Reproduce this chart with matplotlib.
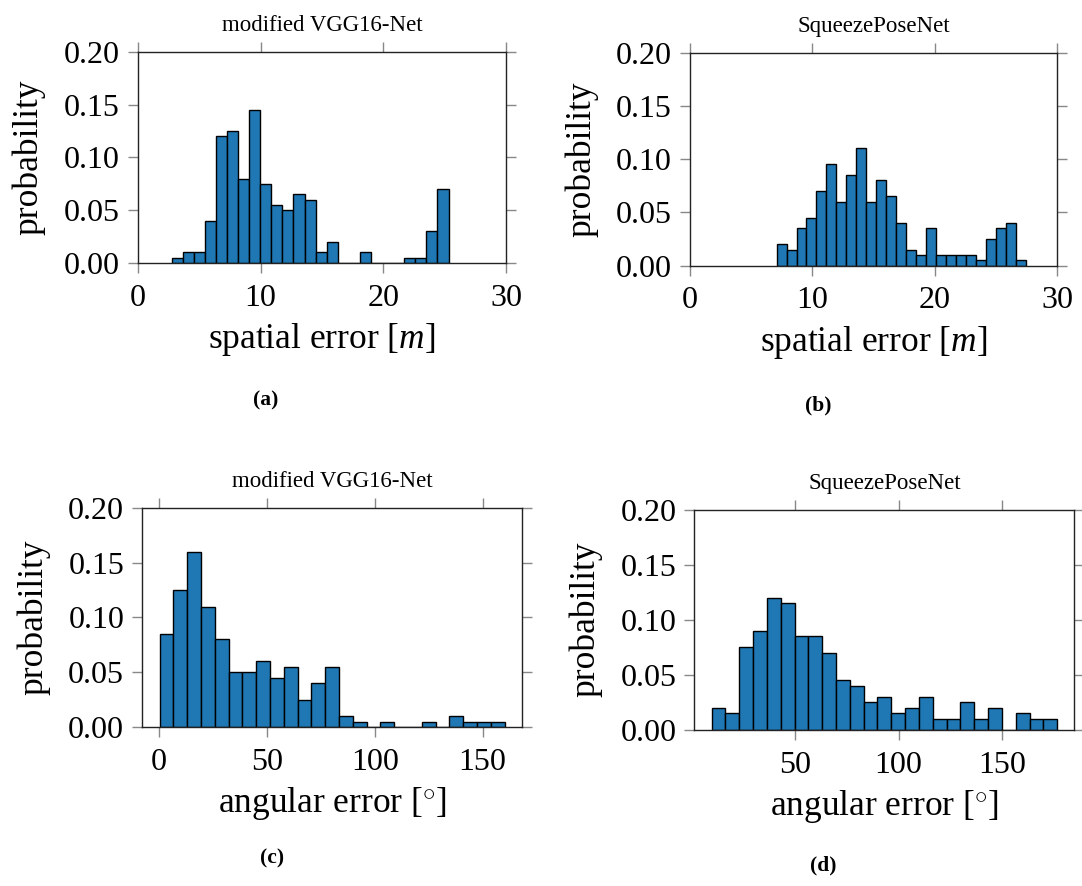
import numpy as np
import matplotlib
matplotlib.use("Agg")
import matplotlib.pyplot as plt

plt.rcParams['font.family'] = ['Liberation Serif', 'DejaVu Serif']
plt.rcParams['mathtext.fontset'] = 'custom'
plt.rcParams['mathtext.rm'] = 'Liberation Serif'
plt.rcParams['mathtext.it'] = 'Liberation Serif:italic'

# (a) spatial error, modified VGG16-Net
spat_vgg_range = (2.74, 25.32)
spat_vgg = [0.005, 0.010, 0.010, 0.040, 0.120, 0.125, 0.080, 0.145, 0.075, 0.055,
            0.050, 0.065, 0.060, 0.010, 0.020, 0.0, 0.0, 0.010, 0.0, 0.0,
            0.0, 0.005, 0.005, 0.030, 0.070]

# (b) spatial error, SqueezePoseNet
spat_sq_range = (7.08, 27.44)
spat_sq = [0.020, 0.015, 0.035, 0.045, 0.070, 0.095, 0.060, 0.085, 0.110, 0.060,
           0.080, 0.065, 0.040, 0.015, 0.010, 0.035, 0.010, 0.010, 0.010, 0.010,
           0.005, 0.025, 0.035, 0.040, 0.005]

# (c) angular error, modified VGG16-Net
ang_vgg_range = (0.3, 160.2)
ang_vgg = [0.085, 0.125, 0.160, 0.110, 0.080, 0.050, 0.050, 0.060, 0.045, 0.055,
           0.025, 0.040, 0.055, 0.010, 0.005, 0.0, 0.005, 0.0, 0.0, 0.005,
           0.0, 0.010, 0.005, 0.005, 0.005]

# (d) angular error, SqueezePoseNet
ang_sq_range = (9.8, 176.5)
ang_sq = [0.020, 0.015, 0.075, 0.090, 0.120, 0.115, 0.085, 0.085, 0.070, 0.045,
          0.040, 0.025, 0.030, 0.015, 0.020, 0.030, 0.010, 0.010, 0.025, 0.010,
          0.020, 0.0, 0.015, 0.010, 0.010]

panels = [
    ("modified VGG16-Net", spat_vgg_range, spat_vgg, r"spatial error [$m$]", "(a)", (0, 30),
     [0.1275, 0.7032, 0.3401, 0.2381], (0.2458, 1 - 400 / 886)),
    ("SqueezePoseNet", spat_sq_range, spat_sq, r"spatial error [$m$]", "(b)", (0, 30),
     [0.6377, 0.7003, 0.3392, 0.2404], (0.7560, 1 - 405 / 886)),
    ("modified VGG16-Net", ang_vgg_range, ang_vgg, r"angular error [$^{\circ}$]", "(c)", None,
     [0.1315, 0.1791, 0.3509, 0.2479], (0.2514, 1 - 858 / 886)),
    ("SqueezePoseNet", ang_sq_range, ang_sq, r"angular error [$^{\circ}$]", "(d)", None,
     [0.6417, 0.1764, 0.3513, 0.2483], (0.7606, 1 - 865 / 886)),
]

fig = plt.figure(figsize=(10.82, 8.86), dpi=100)

for title, rng, heights, xlabel, tag, xlim, pos, tagpos in panels:
    ax = fig.add_axes(pos)
    edges = np.linspace(rng[0], rng[1], len(heights) + 1)
    ax.bar(edges[:-1], heights, width=np.diff(edges), align='edge',
           color='#1f77b4', edgecolor='black', linewidth=1.0)
    if xlim is not None:
        ax.set_xlim(xlim)
        ax.set_xticks([0, 10, 20, 30])
    else:
        ax.margins(x=0.05)
        ax.set_xticks([0, 50, 100, 150] if tag == "(c)" else [50, 100, 150])
    ax.set_ylim(0, 0.20)
    ax.set_yticks([0.0, 0.05, 0.10, 0.15, 0.20])
    ax.set_yticklabels(["0.00", "0.05", "0.10", "0.15", "0.20"])
    ax.tick_params(direction='out', length=7, width=1, color='#888888',
                   top=True, right=True, labelsize=23, pad=6)
    ax.tick_params(axis='x', pad=8)
    for s in ax.spines.values():
        s.set_color('#222222')
        s.set_linewidth(1.0)
    ax.set_title(title, fontsize=16.5, pad=15)
    ax.set_xlabel(xlabel, fontsize=25.5, labelpad=6)
    ax.set_ylabel("probability", fontsize=25.5, labelpad=13)
    fig.text(tagpos[0], tagpos[1], tag, ha='center', va='center',
             fontsize=15.5, fontweight='bold')

fig.savefig("out.png", dpi=100)
